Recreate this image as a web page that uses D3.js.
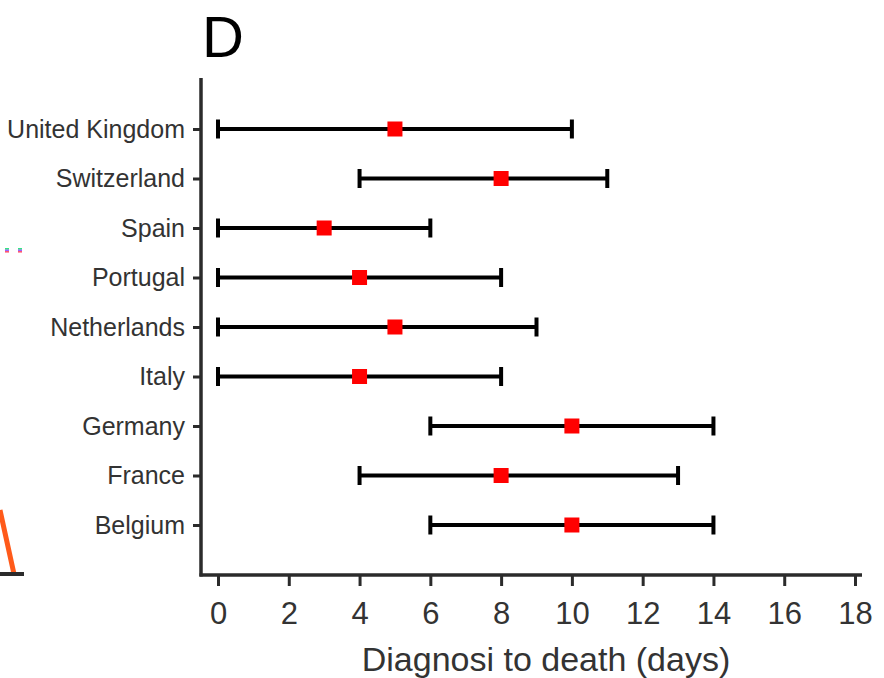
<!DOCTYPE html>
<html>
<head>
<meta charset="utf-8">
<script src="https://cdn.jsdelivr.net/npm/d3@7"></script>
<style>
  html, body { margin: 0; padding: 0; background: #fff; }
  svg { display: block; font-family: "Liberation Sans", Arial, sans-serif; }
</style>
</head>
<body>
<svg id="chart" width="884" height="678"></svg>
<script>
// Countries, top to bottom
const countries = ["United Kingdom", "Switzerland", "Spain", "Portugal", "Netherlands",
                   "Italy", "Germany", "France", "Belgium"];
// Median days from diagnosis to death, with lower / upper range
const medians = [5, 8, 3, 4, 5, 4, 10, 8, 10];
const lows    = [0, 4, 0, 0, 0, 0, 6, 4, 6];
const highs   = [10, 11, 6, 8, 9, 8, 14, 13, 14];
const xTicks  = [0, 2, 4, 6, 8, 10, 12, 14, 16, 18];

const svg = d3.select("#chart");
const axisColor = "#2b2b2b";
const textColor = "#333";

const plotLeft = 201, plotRight = 862, plotTop = 78, plotBottom = 575;

const x = d3.scaleLinear().domain([0, 18]).range([218, 855]);
const y = d3.scalePoint().domain(countries).range([129, 525]);

// Neighbouring-panel edges visible at the border
svg.append("text")
  .attr("x", 582).attr("y", -6)
  .attr("text-anchor", "middle")
  .attr("font-size", 26).attr("fill", textColor)
  .text("(days)");
const dashCols = ["#00e060", "#8040ff", "#ff3050"];
[5, 18].forEach(dx => {
  dashCols.forEach((c, i) => {
    svg.append("rect").attr("x", dx).attr("y", 248 + i * 1.5)
      .attr("width", 4).attr("height", 1.6).attr("fill", c).attr("opacity", 0.8);
  });
});
svg.append("line")
  .attr("x1", 0).attr("y1", 510).attr("x2", 14).attr("y2", 574)
  .attr("stroke", "#ff5a1a").attr("stroke-width", 5);
svg.append("line")
  .attr("x1", 0).attr("y1", 574).attr("x2", 24).attr("y2", 574)
  .attr("stroke", axisColor).attr("stroke-width", 4);

// Panel letter
svg.append("text")
  .attr("x", 202).attr("y", 57)
  .attr("font-size", 58)
  .attr("fill", "#000")
  .text("D");

// Axes frame
svg.append("line")
  .attr("x1", plotLeft).attr("y1", plotTop).attr("x2", plotLeft).attr("y2", plotBottom + 1.5)
  .attr("stroke", axisColor).attr("stroke-width", 3.5);
svg.append("line")
  .attr("x1", plotLeft - 1.5).attr("y1", plotBottom).attr("x2", plotRight).attr("y2", plotBottom)
  .attr("stroke", axisColor).attr("stroke-width", 3.5);

// X axis
const xAxis = d3.axisBottom(x).tickValues(xTicks).tickSize(11).tickPadding(16);
const gx = svg.append("g").attr("transform", `translate(0,${plotBottom})`).call(xAxis);
gx.select(".domain").remove();
gx.selectAll(".tick line").attr("stroke", axisColor).attr("stroke-width", 3);
gx.selectAll(".tick text")
  .attr("font-size", 31).attr("fill", textColor)
  .attr("font-family", "Liberation Sans, Arial, sans-serif");

svg.append("text")
  .attr("x", 546).attr("y", 671)
  .attr("text-anchor", "middle")
  .attr("font-size", 34).attr("fill", textColor)
  .text("Diagnosi to death (days)");

// Y axis
const yAxis = d3.axisLeft(y).tickSize(8).tickPadding(8);
const gy = svg.append("g").attr("transform", `translate(${plotLeft},0)`).call(yAxis);
gy.select(".domain").remove();
gy.selectAll(".tick line").attr("stroke", axisColor).attr("stroke-width", 3);
gy.selectAll(".tick text")
  .attr("font-size", 25).attr("fill", textColor)
  .attr("font-family", "Liberation Sans, Arial, sans-serif");

// Range bars with caps
const rows = countries.map((c, i) => ({ c, m: medians[i], lo: lows[i], hi: highs[i] }));
const g = svg.append("g");
const capH = 9.5;
g.selectAll(".range").data(rows).join("line")
  .attr("x1", d => x(d.lo)).attr("x2", d => x(d.hi))
  .attr("y1", d => y(d.c)).attr("y2", d => y(d.c))
  .attr("stroke", "#000").attr("stroke-width", 4);
g.selectAll(".capL").data(rows).join("line")
  .attr("x1", d => x(d.lo)).attr("x2", d => x(d.lo))
  .attr("y1", d => y(d.c) - capH).attr("y2", d => y(d.c) + capH)
  .attr("stroke", "#000").attr("stroke-width", 4);
g.selectAll(".capR").data(rows).join("line")
  .attr("x1", d => x(d.hi)).attr("x2", d => x(d.hi))
  .attr("y1", d => y(d.c) - capH).attr("y2", d => y(d.c) + capH)
  .attr("stroke", "#000").attr("stroke-width", 4);

// Median markers
const s = 15;
g.selectAll(".med").data(rows).join("rect")
  .attr("x", d => x(d.m) - s / 2).attr("y", d => y(d.c) - s / 2)
  .attr("width", s).attr("height", s)
  .attr("fill", "#ff0000");
</script>
</body>
</html>
